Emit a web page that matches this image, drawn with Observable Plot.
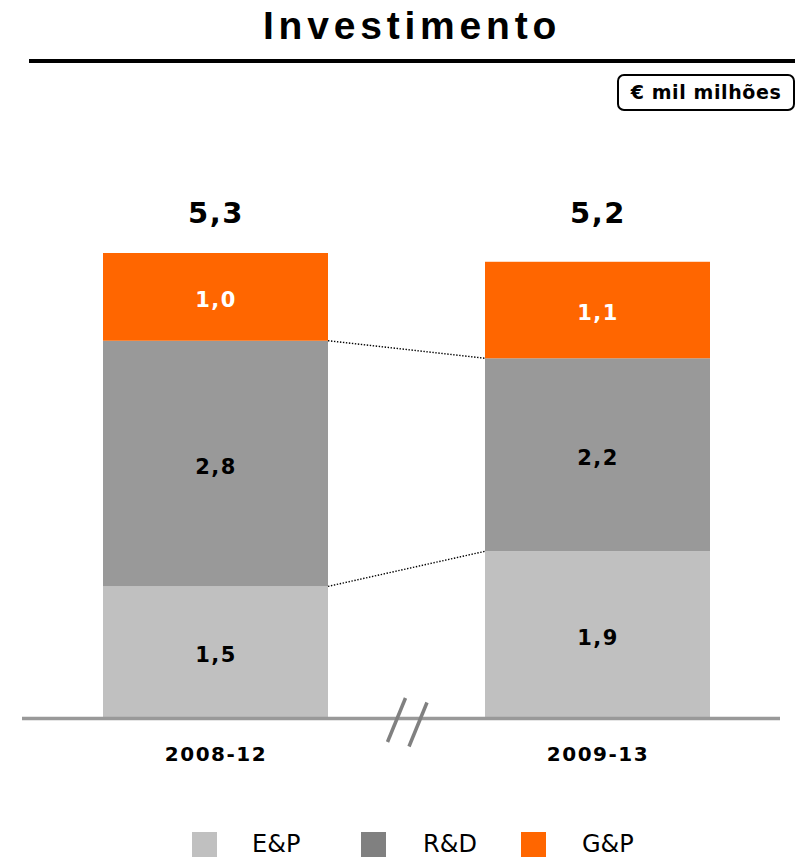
<!DOCTYPE html>
<html>
<head>
<meta charset="utf-8">
<script src="https://cdn.jsdelivr.net/npm/d3@7"></script>
<script src="https://cdn.jsdelivr.net/npm/@observablehq/plot@0.6"></script>
<style>
  html, body { margin: 0; padding: 0; background: #fff; }
  #wrap { position: relative; width: 802px; height: 858px; overflow: hidden; font-family: "DejaVu Sans", sans-serif; }
  #title { position: absolute; left: 29px; width: 766px; top: 5px; text-align: center;
           font: bold 39px "Liberation Sans", Arial, sans-serif; letter-spacing: 4.8px; line-height: 42px; color: #000; }
  #rule { position: absolute; left: 29px; top: 59px; width: 766px; height: 3.5px; background: #000; }
  #unit { position: absolute; left: 617px; top: 74px; width: 174px; height: 33px; border: 2px solid #000; border-radius: 7px;
          font: bold 19px "DejaVu Sans", sans-serif; letter-spacing: 0.6px; line-height: 33px; text-align: center; }
  #chart { position: absolute; left: 0; top: 120px; }
  #chart svg text { letter-spacing: 1.5px; }
  .legend { position: absolute; top: 832px; }
  .sw { position: absolute; width: 25px; height: 25px; top: 0; }
  .lt { position: absolute; top: -3px; font: 24px "DejaVu Sans", sans-serif; line-height: 30px; color: #000; white-space: nowrap; }
</style>
</head>
<body>
<div id="wrap">
  <div id="title">Investimento</div>
  <div id="rule"></div>
  <div id="unit">€ mil milhões</div>
  <div id="chart"></div>
  <div id="legend"></div>
</div>
<script>
// Investment by plan period, € thousand million
const periods = ["2008-12", "2009-13"];
const segments = ["E&P", "R&D", "G&P"];
const epValues = [1.5, 1.9];
const rdValues = [2.8, 2.2];
const gpValues = [1.0, 1.1];
const totals = [5.3, 5.2];

const barColors = ["#c0c0c0", "#999999", "#ff6600"];
const legendColors = ["#c0c0c0", "#808080", "#ff6600"];

const fmt = v => v.toFixed(1).replace(".", ",");

// Stacked rows: E&P at the bottom, then R&D, then G&P
const series = [epValues, rdValues, gpValues];
const rows = [];
periods.forEach((p, i) => {
  let base = 0;
  segments.forEach((s, j) => {
    const v = series[j][i];
    rows.push({period: p, segment: s, value: v, y1: base, y2: base + v, mid: base + v / 2});
    base += v;
  });
});
const totalRows = periods.map((p, i) => ({period: p, total: totals[i]}));

const W = 802, H = 700;
const plot = Plot.plot({
  width: W,
  height: H,
  marginTop: 133,
  marginBottom: 102,
  marginLeft: 22,
  marginRight: 22,
  style: {background: "transparent", fontFamily: "DejaVu Sans, sans-serif", overflow: "visible"},
  x: {type: "band", domain: periods, range: [103, 710], paddingInner: 0.411, paddingOuter: 0, axis: null},
  y: {domain: [0, d3.max(totals)], axis: null},
  color: {domain: segments, range: barColors},
  marks: [
    Plot.barY(rows, {x: "period", y1: "y1", y2: "y2", fill: "segment", inset: 0}),
    Plot.ruleY([0], {stroke: "#999999", strokeWidth: 3.5}),
    Plot.text(rows.filter(d => d.segment !== "G&P"), {
      x: "period", y: "mid", text: d => fmt(d.value), dy: 3,
      fill: "#000", fontSize: 21, fontWeight: "bold"
    }),
    Plot.text(rows.filter(d => d.segment === "G&P"), {
      x: "period", y: "mid", text: d => fmt(d.value), dy: 3,
      fill: "#fff", fontSize: 21, fontWeight: "bold"
    }),
    Plot.text(totalRows, {
      x: "period", y: () => d3.max(totals), text: d => fmt(d.total), dy: -40,
      fill: "#000", fontSize: 29, fontWeight: "bold"
    }),
    Plot.text(periods, {
      x: d => d, y: () => 0, text: d => d, dy: 36,
      fill: "#000", fontSize: 20, fontWeight: "bold"
    })
  ]
});
document.getElementById("chart").appendChild(plot);

// Dotted connectors between matching segment boundaries, and the axis break
const xs = plot.scale("x"), ys = plot.scale("y");
const bw = xs.bandwidth;
const svg = d3.select(plot);
const boundaries = periods.map((p, i) => [epValues[i], epValues[i] + rdValues[i]]);
[0, 1].forEach(k => {
  svg.append("line")
    .attr("x1", xs.apply(periods[0]) + bw)
    .attr("y1", ys.apply(boundaries[0][k]))
    .attr("x2", xs.apply(periods[1]))
    .attr("y2", ys.apply(boundaries[1][k]))
    .attr("stroke", "#000")
    .attr("stroke-width", 1.4)
    .attr("stroke-dasharray", "1.4,1.6");
});
const gapMid = (xs.apply(periods[0]) + bw + xs.apply(periods[1])) / 2;
const y0 = ys.apply(0);
[[-10, 2], [11.5, 6.5]].forEach(([dx, dy]) => {
  svg.append("line")
    .attr("x1", gapMid + dx + 9).attr("y1", y0 + dy - 22)
    .attr("x2", gapMid + dx - 9).attr("y2", y0 + dy + 22)
    .attr("stroke", "#808080").attr("stroke-width", 3.5);
});

// Legend below the chart
const legendPos = [[192, 252], [361, 423], [521, 582]];
const legend = document.getElementById("legend");
segments.forEach((s, i) => {
  const sw = document.createElement("div");
  sw.className = "legend sw";
  sw.style.left = legendPos[i][0] + "px";
  sw.style.top = "832px";
  sw.style.background = legendColors[i];
  legend.appendChild(sw);
  const t = document.createElement("div");
  t.className = "legend lt";
  t.style.left = legendPos[i][1] + "px";
  t.style.top = "829px";
  t.textContent = s;
  legend.appendChild(t);
});
</script>
</body>
</html>
